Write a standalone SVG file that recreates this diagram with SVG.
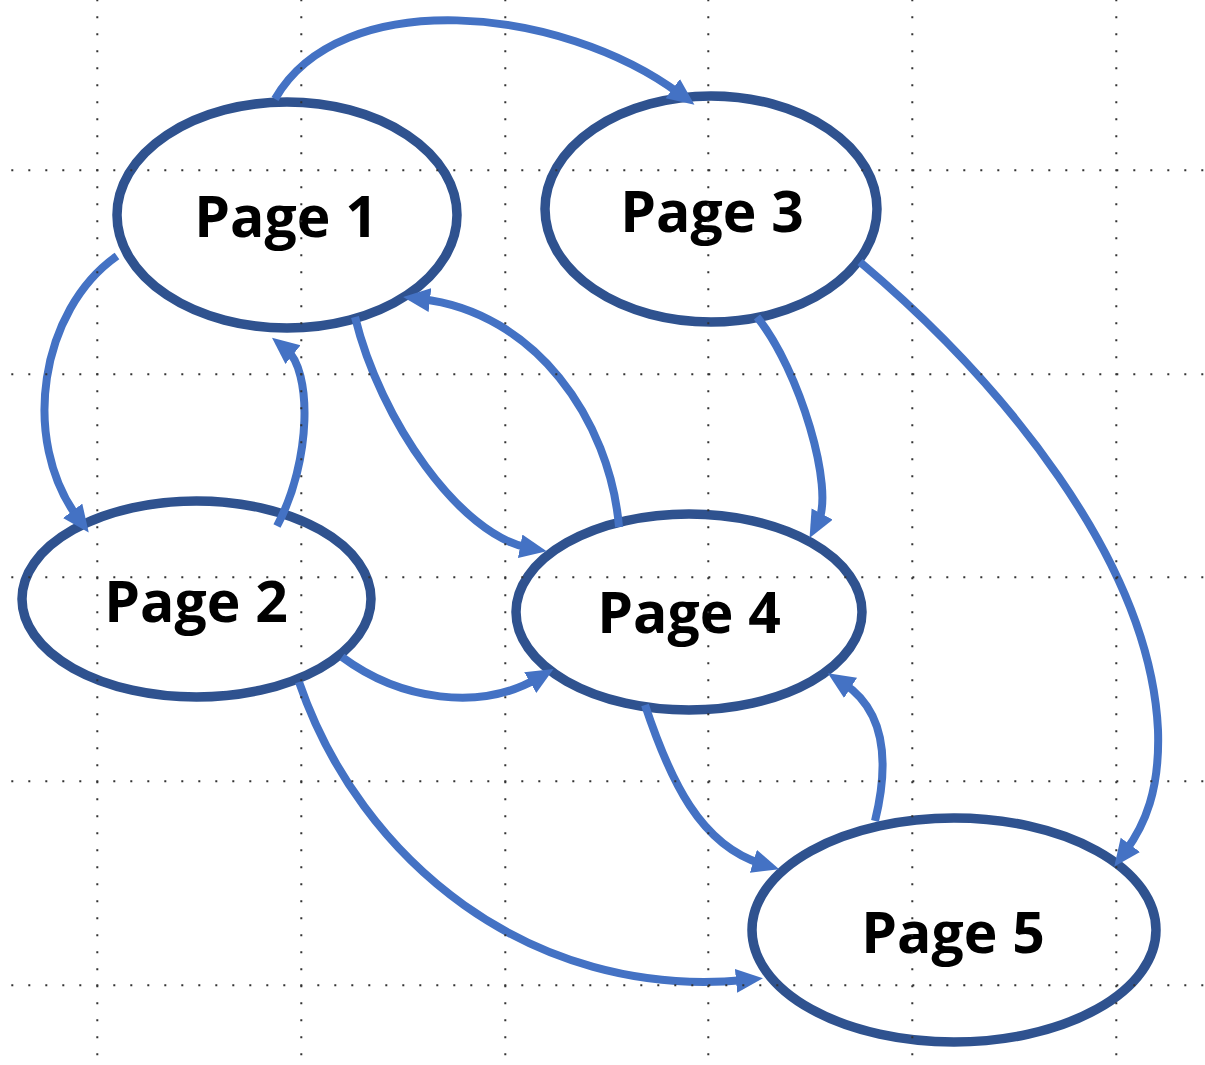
<svg xmlns="http://www.w3.org/2000/svg" width="1205" height="1065" viewBox="0 0 1205 1065">
  <style>
    .node ellipse { fill: #ffffff; stroke: #2F528F; stroke-width: 9.5; }
    .node text { font-family: "Open Sans", "Liberation Sans", sans-serif; font-weight: 700; font-size: 57px; fill: #000000; text-anchor: middle; }
    .edge { fill: none; stroke: #4472C4; stroke-width: 8; marker-end: url(#arrow); }
    .grid { stroke: #333333; stroke-width: 2; stroke-dasharray: 2 15; fill: none; }
  </style>
  <defs>
    <marker id="arrow" markerUnits="userSpaceOnUse" markerWidth="28" markerHeight="26" refX="9" refY="12" orient="auto">
      <path d="M0,0 L27,12 L0,24 z" fill="#4472C4"/>
    </marker>
  </defs>
  <rect x="0" y="0" width="1205" height="1065" fill="#ffffff"/>

  <g id="page1" class="node">
    <ellipse cx="287" cy="215" rx="170" ry="113"/>
    <text x="286" y="237">Page 1</text>
  </g>
  <g id="page3" class="node">
    <ellipse cx="711" cy="209" rx="166" ry="113"/>
    <text x="712" y="232">Page 3</text>
  </g>
  <g id="page2" class="node">
    <ellipse cx="196.5" cy="599" rx="174.5" ry="98"/>
    <text x="196" y="622">Page 2</text>
  </g>
  <g id="page4" class="node">
    <ellipse cx="689" cy="612" rx="173" ry="98"/>
    <text x="689" y="633">Page 4</text>
  </g>
  <g id="page5" class="node">
    <ellipse cx="954" cy="930" rx="202" ry="112"/>
    <text x="953" y="953">Page 5</text>
  </g>

  <g id="connectors">
    <path class="edge" d="M275,99 C340,-15 560,5 680,94"/>
    <path class="edge" d="M117,256 C40,310 20,440 78,518"/>
    <path class="edge" d="M277,526 C312,460 312,370 286,349"/>
    <path class="edge" d="M355,317 C380,420 460,535 529,548"/>
    <path class="edge" d="M619,527 C610,420 535,312 421,299"/>
    <path class="edge" d="M757,317 C800,370 835,490 818,522"/>
    <path class="edge" d="M860,262 C1000,380 1150,560 1158,730 C1160,790 1145,825 1125,852"/>
    <path class="edge" d="M342,657 C400,700 480,712 538,678"/>
    <path class="edge" d="M299,682 C360,860 530,1000 745,980"/>
    <path class="edge" d="M645,705 C670,780 700,845 762,864"/>
    <path class="edge" d="M875,821 C890,760 885,710 843,683"/>
  </g>

  <g id="grid">
    <path class="grid" d="M11.3,170.3 H1205 M11.3,374.3 H1205 M11.3,577.3 H1205 M11.3,781.3 H1205 M11.3,985.3 H1205"/>
    <path class="grid" d="M97.3,-0.7 V1060 M301.3,-0.7 V1060 M505.3,-0.7 V1060 M708.3,-0.7 V1060 M912.3,-0.7 V1060 M1116.3,-0.7 V1060"/>
  </g>
</svg>
